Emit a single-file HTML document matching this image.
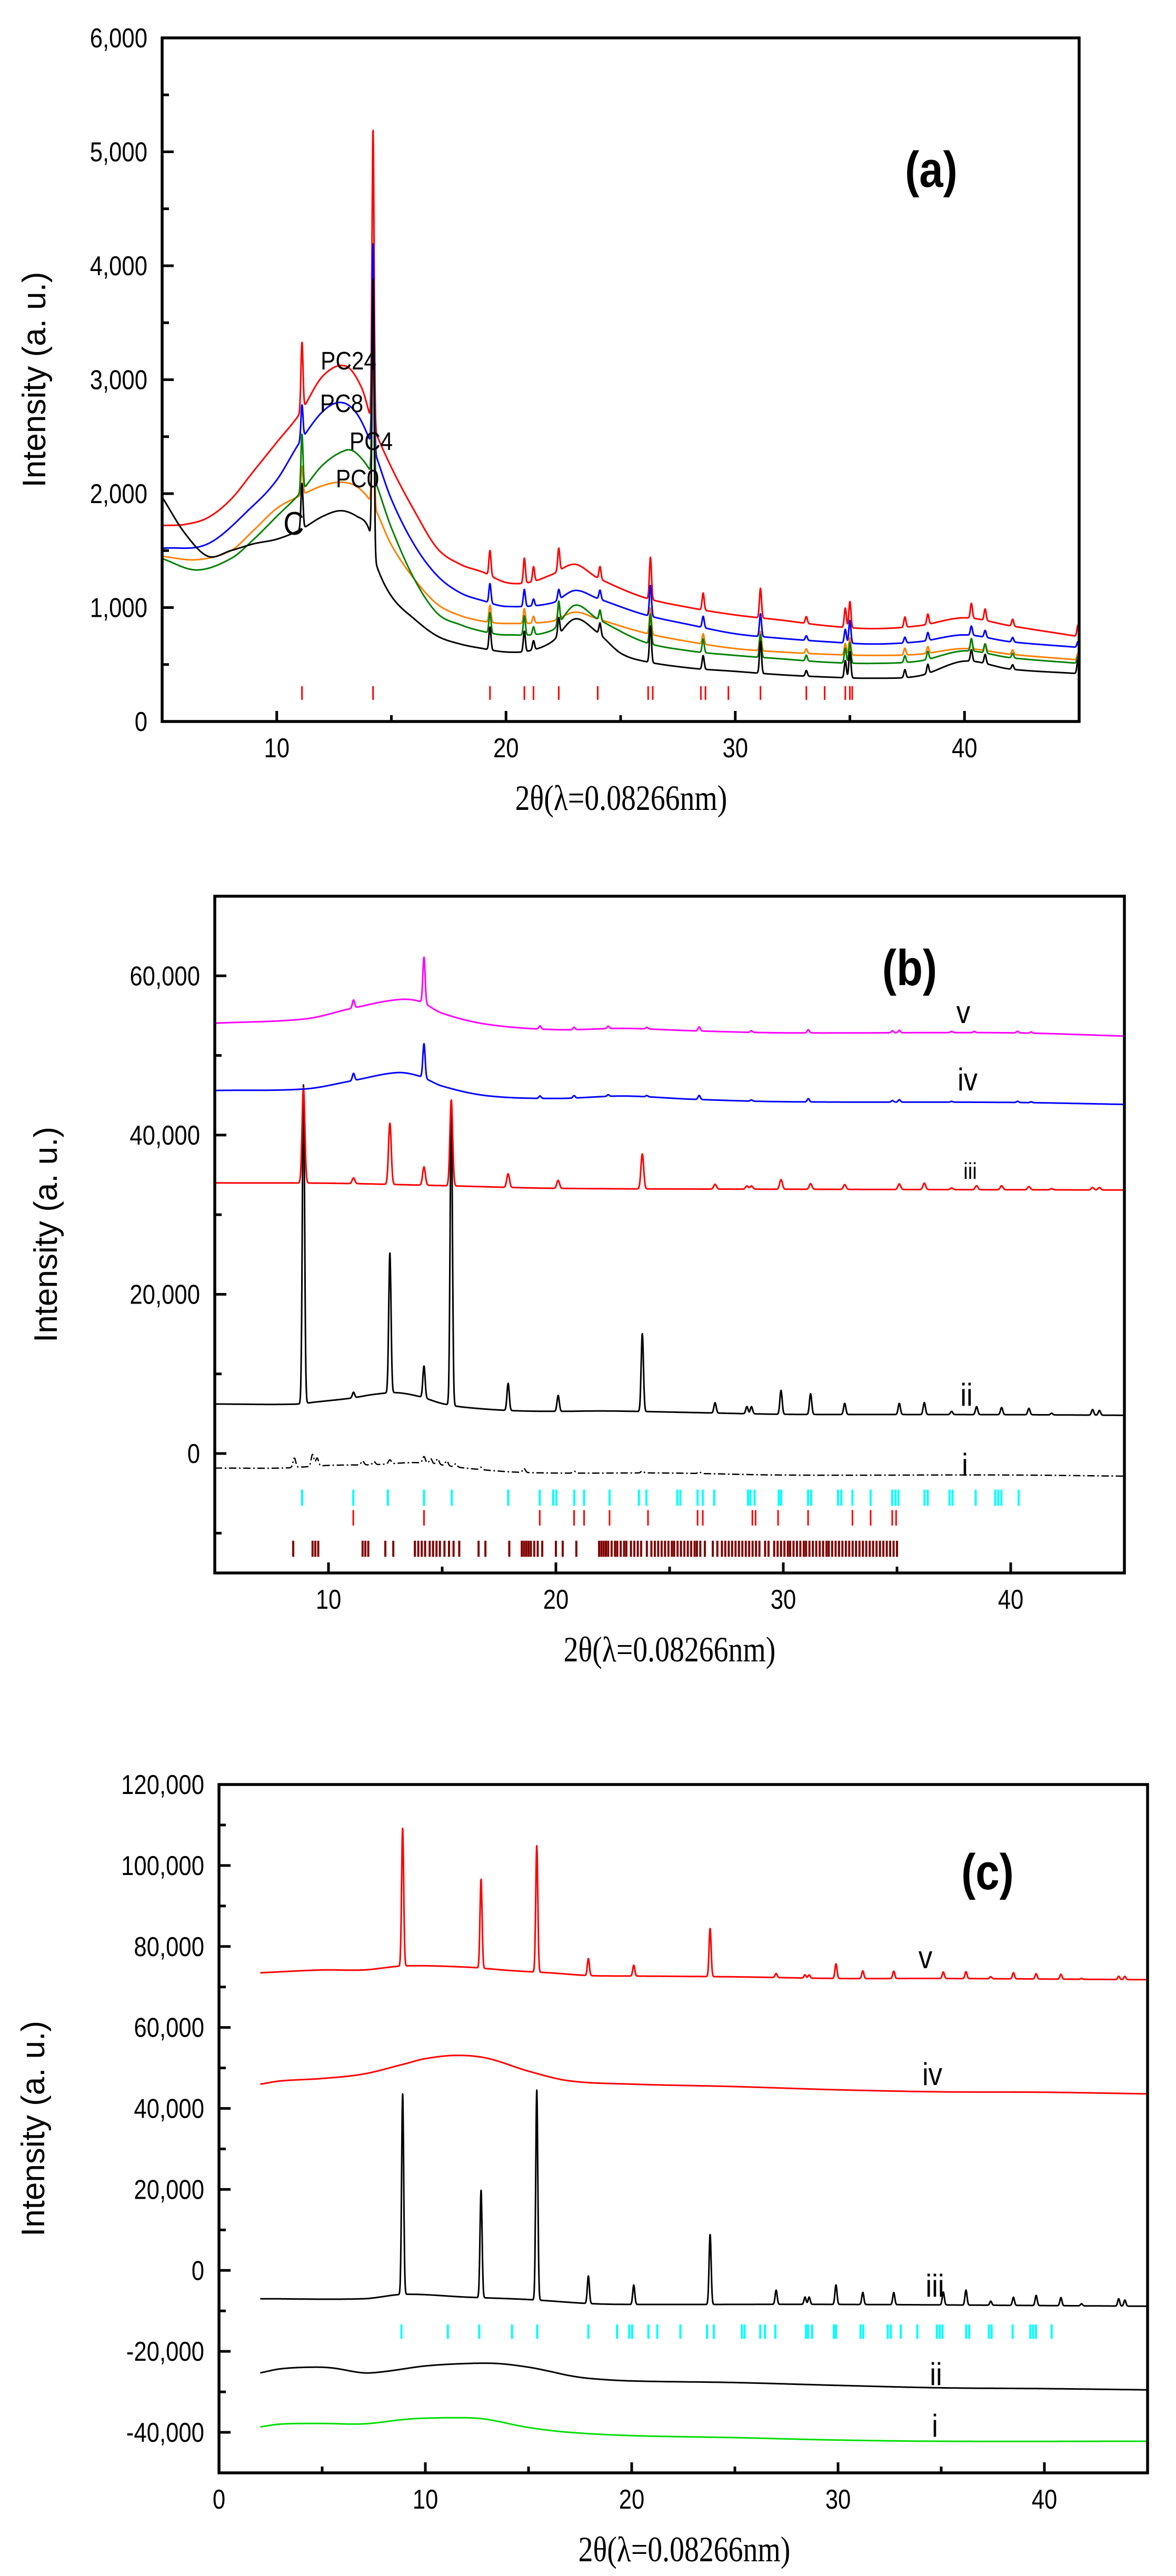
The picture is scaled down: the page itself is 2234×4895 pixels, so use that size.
<!DOCTYPE html>
<html><head><meta charset="utf-8">
<style>
html,body{margin:0;padding:0;background:#fff;}
svg{display:block;}
text{font-family:"Liberation Sans",Arial,sans-serif;}
.serif{font-family:"Liberation Serif","Times New Roman",serif;}
</style></head>
<body>
<svg id="fig" width="2234" height="4895" viewBox="0 0 2234 4895" xmlns="http://www.w3.org/2000/svg">
<rect width="2234" height="4895" fill="#fff"/>
</svg>
<script>
// ---------- Panel (a) data ----------
const aPeakPos = [11.1,14.2,19.3,20.8,21.2,22.3,24.1,26.3,28.6,31.1,33.1,34.8,35.0,37.4,38.4,40.3,40.9,42.1,44.95];
const aRedX = [5,6,7,8,9,10,11,12,13,13.7,14.2,15,16,17,18,19,20,21,22,23,24,26,28,30,32,34,36,38,40,42,45];
const aRedY = [1720,1730,1790,1950,2200,2450,2700,3030,3120,2930,2600,2230,1850,1520,1380,1310,1220,1220,1290,1380,1260,1090,1000,935,890,840,815,840,910,840,745];
const aRedPk = [600,2600,220,220,130,200,110,370,150,260,60,170,230,90,90,130,100,60,100];
const aBlueX = [5,7,9,10,11,12,12.8,13.5,14.2,15,16,17,18,19,20,22,23,24,26,28,30,32,34,36,38,40,42,45];
const aBlueY = [1520,1560,1900,2120,2450,2720,2800,2700,2400,1950,1550,1280,1130,1060,1010,1040,1150,1080,940,850,770,730,700,680,700,760,700,650];
const aBluePk = [300,1800,170,150,60,90,80,270,100,200,40,120,200,50,70,80,60,40,50];
const aOrangeX = [5,6.5,8,9,10,11,12,12.8,13.5,14.2,15,16,17,18,19,20,22,23,24,26,28,30,32,34,36,38,40,42,45];
const aOrangeY = [1450,1420,1500,1680,1870,1980,2070,2100,2060,1900,1550,1250,1030,930,880,860,880,960,900,780,700,640,610,590,580,590,640,590,540];
const aOrangePk = [250,1500,150,130,60,120,70,230,90,170,40,100,150,60,60,80,60,40,60];
const aGreenX = [5,6.5,8,9,10,11,12,13,13.5,14.2,15,16,17,18,19,20,22,23,24,26,28,30,32,34,36,38,40,42,45];
const aGreenY = [1430,1330,1430,1600,1800,2000,2250,2380,2350,2150,1700,1250,950,850,790,760,800,1020,900,700,620,580,550,520,510,530,620,560,510];
const aGreenPk = [500,1600,180,170,70,200,90,260,120,200,50,130,180,60,70,110,80,40,60];
const aBlackX = [5,6,7,8,9,10,11,12,12.8,13.5,14,14.3,15,16,17,18,19,20,21,22,23,24,25,26,28,30,32,34,36,38,40,42,45];
const aBlackY = [1970,1650,1450,1500,1560,1600,1680,1800,1850,1800,1700,1400,1100,900,750,680,640,610,620,700,900,780,600,530,470,440,410,390,380,400,530,460,420];
const aBlackPk = [400,2400,200,180,80,150,100,320,120,280,50,150,230,70,80,100,80,40,120];
const aRefTicks = [11.1,14.2,19.3,20.8,21.2,22.3,24.0,26.2,26.4,28.5,28.7,29.7,31.1,33.1,33.9,34.8,35.0,35.1];
const aYTicks = [0,1000,2000,3000,4000,5000,6000];
const aYTickLabels = ["0","1,000","2,000","3,000","4,000","5,000","6,000"];
const aXTicks = [10,20,30,40];

// ---------- Panel (b) data ----------
const bVX = [5,9,11,13,14,15,17,20,23,26,30,40,45];
const bVY = [54050,54600,55900,57000,56800,55300,53900,53240,53400,53100,52840,52840,52430];
const bVPkPos = [11.1,14.2,19.3,20.8,22.3,24.0,26.3,28.6,31.1,34.8,35.1,37.4,38.4,40.3,40.9];
const bVPk = [1000,5800,400,300,300,200,500,200,400,250,300,150,150,200,150];
const bIVX = [5,9,11,13,14,15,17,20,23,26,30,40,45];
const bIVY = [45600,45800,46800,47840,47400,46150,44930,44600,44900,44500,44190,44100,43850];
const bIVPkPos = [11.1,14.2,19.3,20.8,22.3,24.0,26.3,28.6,31.1,34.8,35.1,37.4,40.3,40.9];
const bIVPk = [900,4300,300,300,200,150,500,150,400,200,300,100,150,100];
const bIIIX = [5,10,15,20,30,45];
const bIIIY = [33990,33950,33650,33310,33200,33100];
const xtalPkPos = [8.9,11.1,12.7,14.2,15.4,17.9,20.1,23.8,27.0,28.4,28.6,29.9,31.2,32.7,35.1,36.2,37.4,38.5,39.6,40.8,41.8,43.6,43.9];
const bIIIPk = [12000,700,7700,2300,10800,1700,1000,4400,600,400,400,1200,700,600,700,800,200,500,500,400,150,300,300];
const bIIX = [5,8.5,9.5,11,12,13,14,15,16,18,20,22,24,26,30,35,40,45];
const bIIY = [6220,6200,6490,6960,7430,7640,7160,6280,5810,5400,5300,5350,5270,5150,4930,4900,4880,4800];
const bIIPk = [40000,700,17600,4000,38000,3400,2000,9800,1300,900,900,3000,2600,1400,1400,1500,400,1000,900,800,200,700,600];
const bIX = [5,8,10,12,14,16,18,20,25,30,40,45];
const bIY = [-1820,-1820,-1490,-1400,-1150,-1820,-2300,-2450,-2450,-2700,-2700,-2840];
const bIPkPos = [8.5,9.3,9.5,11.5,12.0,12.7,14.2,14.5,14.8,15.2,15.6,16.7,18.6,20.8,23.8,26.3];
const bIPk = [1200,1500,1000,500,400,500,800,600,700,600,400,300,500,250,250,200];
const cyanTicks = [8.84,11.09,12.61,14.2,15.42,17.9,19.29,19.88,20.02,20.81,21.24,22.36,23.65,23.98,25.34,25.47,26.23,26.46,26.96,28.45,28.55,28.74,29.8,29.9,31.09,31.22,32.41,32.55,33.04,33.84,34.79,34.93,35.06,36.21,36.35,37.31,37.44,38.46,39.32,39.45,39.59,40.35];
const bRedTicks = [11.09,14.2,19.29,20.8,21.24,22.36,24.05,26.23,26.46,28.64,28.78,29.77,31.09,33.04,33.84,34.79,34.96];
const bDarkTicks = [8.45,9.3,9.42,9.55,11.5,11.62,11.75,12.5,12.85,13.8,13.95,14.1,14.25,14.45,14.6,14.75,14.9,15.1,15.3,15.5,15.75,16.6,16.9,17.95,18.5,18.6,18.7,18.8,18.9,19.05,19.2,19.4,20.0,20.3,20.9,21.9,22.0,22.1,22.2,22.3,22.45,22.6,22.7,22.85,23.0,23.1,23.3,23.45,23.6,23.75,24.0,24.2,24.35,24.5,24.65,24.8,24.95,25.1,25.2,25.35,25.5,25.65,25.8,25.95,26.1,26.2,26.35,26.55,26.9,27.1,27.3,27.45,27.6,27.75,27.9,28.05,28.2,28.35,28.5,28.65,28.8,28.95,29.2,29.35,29.6,29.75,29.9,30.05,30.2,30.3,30.45,30.6,30.75,30.9,31.0,31.15,31.3,31.45,31.6,31.75,31.9,32.0,32.15,32.3,32.45,32.6,32.75,32.9,33.05,33.2,33.35,33.5,33.65,33.8,33.95,34.1,34.25,34.4,34.55,34.7,34.85,35.0];
const bYTicks = [0,20000,40000,60000];
const bYTickLabels = ["0","20,000","40,000","60,000"];
const bXTicks = [10,20,30,40];

// ---------- Panel (c) data ----------
const cVX = [2,5,7,9,12,14,15.3,16,18,20,25,30,35,45];
const cVY = [73500,74200,74200,75200,74900,74100,73700,73500,72800,72700,72500,72100,72100,71800];
const cVPk = [34000,0,22000,0,31300,4200,2700,11900,1000,800,800,3600,1900,1800,1600,1700,500,1500,1300,1200,200,800,800];
const cIVX = [2,3,5,7,9,10,11.5,13,15,17,20,25,30,35,40,45];
const cIVY = [46000,46800,47400,48500,51000,52300,53100,52400,49200,46800,46000,45400,44600,44100,44000,43600];
const cIIIX = [2,7,9,12,15,18,20,30,45];
const cIIIY = [-7000,-7000,-5900,-6600,-7200,-8200,-8400,-8400,-8850];
const cIIIPk = [49500,0,26600,0,52000,6800,4800,17300,3500,1800,1800,4800,3000,3000,3200,3700,1000,2000,2500,2000,500,1800,1500];
const cIIX = [2,3,4.5,5.5,7,8,10,12,13.5,15,16,17,18,20,25,30,35,40,45];
const cIIY = [-25300,-24300,-23900,-24100,-25300,-25000,-23600,-23000,-23000,-23900,-24900,-26000,-26700,-27300,-27700,-28400,-29000,-29200,-29500];
const cIX = [2,3,5,7,9,10,12,13,15,17,20,25,30,35,45];
const cIY = [-38650,-37950,-37800,-37900,-36800,-36500,-36400,-36800,-38800,-40000,-40800,-41300,-41900,-42200,-42200];
const cYTicks = [-40000,-20000,0,20000,40000,60000,80000,100000,120000];
const cYTickLabels = ["-40,000","-20,000","0","20,000","40,000","60,000","80,000","100,000","120,000"];
const cXTicks = [0,10,20,30,40];

const NS = "http://www.w3.org/2000/svg";
const fig = document.getElementById('fig');

function mk(tag, attrs, parent) {
  const e = document.createElementNS(NS, tag);
  for (const k in attrs) e.setAttribute(k, attrs[k]);
  (parent || fig).appendChild(e);
  return e;
}
function condense(t, f) {
  const L = t.getComputedTextLength();
  if (L > 0) { t.setAttribute('textLength', (L * f).toFixed(1)); t.setAttribute('lengthAdjust', 'spacingAndGlyphs'); }
}
function baseline(xs, ys, x) {
  if (x <= xs[0]) return ys[0];
  const n = xs.length;
  if (x >= xs[n - 1]) return ys[n - 1];
  let i = 0;
  while (x > xs[i + 1]) i++;
  const slope = k => {
    if (k === 0) return (ys[1] - ys[0]) / (xs[1] - xs[0]);
    if (k === n - 1) return (ys[n - 1] - ys[n - 2]) / (xs[n - 1] - xs[n - 2]);
    return (ys[k + 1] - ys[k - 1]) / (xs[k + 1] - xs[k - 1]);
  };
  const h = xs[i + 1] - xs[i], t = (x - xs[i]) / h;
  const t2 = t * t, t3 = t2 * t;
  return (2*t3 - 3*t2 + 1) * ys[i] + (t3 - 2*t2 + t) * h * slope(i) + (-2*t3 + 3*t2) * ys[i + 1] + (t3 - t2) * h * slope(i + 1);
}
function curveVal(bx, by, pp, ph, sig, x) {
  let v = baseline(bx, by, x);
  if (pp) for (let k = 0; k < pp.length; k++) {
    const d = (x - pp[k]) / sig;
    if (Math.abs(d) < 6) v += ph[k] * Math.exp(-0.5 * d * d);
  }
  return v;
}

function makePanel(cfg) {
  const g = mk('g', {});
  
  
  const sx = v => cfg.x0 + (v - cfg.xmin) / (cfg.xmax - cfg.xmin) * (cfg.x1 - cfg.x0);
  const sy = v => cfg.y1 - (v - cfg.ymin) / (cfg.ymax - cfg.ymin) * (cfg.y1 - cfg.y0);
  const clip = 'clip-' + cfg.name;
  const cp = mk('clipPath', { id: clip }, g);
  mk('rect', { x: cfg.x0, y: cfg.y0 - 2, width: cfg.x1 - cfg.x0, height: cfg.y1 - cfg.y0 + 2 }, cp);
  const plot = mk('g', { 'clip-path': 'url(#' + clip + ')' }, g);
  return { g, sx, sy, plot, cfg };
}
function drawSeries(P, name, bx, by, pp, ph, sig, color, extra) {
  const c = P.cfg; const step = 0.012;
  let d = '';
  const xs0 = Math.max(c.xmin, bx[0]);
  for (let x = xs0; x <= c.xmax + 1e-9; x += step) {
    const v = curveVal(bx, by, pp, ph, sig, x);
    d += (d ? 'L' : 'M') + P.sx(x).toFixed(1) + ',' + P.sy(v).toFixed(1);
  }
  const p = mk('path', { d: d, fill: 'none', stroke: color, 'stroke-width': 3, 'stroke-linejoin': 'round' }, P.plot);
  if (extra) for (const k in extra) p.setAttribute(k, extra[k]);
  
  
}
function drawRefTicks(P, name, arr, v0, v1, color, w) {
  const grp = mk('g', {}, P.plot);
  
  
  for (const t of arr) {
    const l = mk('line', { x1: P.sx(t), x2: P.sx(t), y1: P.sy(v0), y2: P.sy(v1), stroke: color, 'stroke-width': w }, grp);
    
    
  }
}
function drawAxes(P, yTicks, yLabels, yMinorStep, xTicks, xMinorStep, panelLabel, plx, ply) {
  const c = P.cfg, g = P.g;
  const frame = mk('rect', { x: c.x0, y: c.y0, width: c.x1 - c.x0, height: c.y1 - c.y0, fill: 'none', stroke: '#000', 'stroke-width': 5.5 }, g);
  
  
  for (let v = Math.ceil(c.ymin / yMinorStep) * yMinorStep; v <= c.ymax; v += yMinorStep) {
    const y = P.sy(v);
    if (y < c.y0 + 3 || y > c.y1 - 3) continue;
    const major = yTicks.indexOf(v) >= 0;
    mk('line', { x1: c.x0, x2: c.x0 + (major ? 22 : 13), y1: y, y2: y, stroke: '#000', 'stroke-width': 5 }, g);
  }
  yTicks.forEach((v, i) => {
    const t = mk('text', { x: c.x0 - 28, y: P.sy(v) + 18, 'font-size': 52, 'text-anchor': 'end', fill: '#000' }, g);
    t.textContent = yLabels[i];
    
    
    condense(t, 0.84);
  });
  for (let v = Math.ceil(c.xmin / xMinorStep) * xMinorStep; v <= c.xmax; v += xMinorStep) {
    const x = P.sx(v);
    if (x < c.x0 + 3 || x > c.x1 - 3) continue;
    const major = xTicks.indexOf(v) >= 0;
    mk('line', { x1: x, x2: x, y1: c.y1, y2: c.y1 - (major ? 20 : 12), stroke: '#000', 'stroke-width': 5 }, g);
  }
  xTicks.forEach(v => {
    const t = mk('text', { x: P.sx(v), y: c.y1 + 68, 'font-size': 52, 'text-anchor': 'middle', fill: '#000' }, g);
    t.textContent = String(v);
    
    
    condense(t, 0.84);
  });
  const yt = mk('text', { x: 0, y: 0, 'font-size': 62, 'text-anchor': 'middle', fill: '#000', transform: 'translate(' + c.ytx + ',' + ((c.y0 + c.y1) / 2) + ') rotate(-90)' }, g);
  yt.textContent = 'Intensity (a. u.)';
  
  
  const xt = mk('text', { x: c.xtx, y: c.y1 + 168, 'font-size': 68, 'text-anchor': 'middle', fill: '#000', class: 'serif' }, g);
  xt.textContent = '2θ(λ=0.08266nm)';
  
  
  condense(xt, 0.82);
  const pl = mk('text', { x: plx, y: ply, 'font-size': 96, 'font-weight': 'bold', 'text-anchor': 'middle', fill: '#000' }, g);
  pl.textContent = panelLabel;
  
  
  condense(pl, 0.85);
}
function label(P, txt, x, y, size, name) {
  const t = mk('text', { x: x, y: y, 'font-size': size, 'text-anchor': 'middle', fill: '#000' }, P.g);
  t.textContent = txt;
  
  
  condense(t, 0.88);
}

// ===== Panel (a) =====
const A = makePanel({ name: 'panel-a', x0: 308, x1: 2050, y0: 72, y1: 1371, xmin: 5, xmax: 45, ymin: 0, ymax: 6000, ytx: 86, xtx: 1180 });
drawRefTicks(A, 'reference-ticks-a', aRefTicks, 190, 310, '#ff0000', 3);
drawSeries(A, 'series-pc24', aRedX, aRedY, aPeakPos, aRedPk, 0.045, '#ff0000');
drawSeries(A, 'series-pc8', aBlueX, aBlueY, aPeakPos, aBluePk, 0.045, '#0000ff');
drawSeries(A, 'series-pc0', aOrangeX, aOrangeY, aPeakPos, aOrangePk, 0.045, '#ff8000');
drawSeries(A, 'series-pc4', aGreenX, aGreenY, aPeakPos, aGreenPk, 0.045, '#008000');
drawSeries(A, 'series-c', aBlackX, aBlackY, aPeakPos, aBlackPk, 0.045, '#000000');
drawAxes(A, aYTicks, aYTickLabels, 500, aXTicks, 5, '(a)', 1769, 355);
label(A, 'PC24', 662, 702, 48, 'label-pc24');
label(A, 'PC8', 649, 783, 48, 'label-pc8');
label(A, 'PC4', 705, 855, 48, 'label-pc4');
label(A, 'PC0', 679, 926, 48, 'label-pc0');
label(A, 'C', 558, 1016, 62, 'label-c');

// ===== Panel (b) =====
const B = makePanel({ name: 'panel-b', x0: 408, x1: 2136, y0: 1703, y1: 2989, xmin: 5, xmax: 45, ymin: -15000, ymax: 70000, ytx: 108, xtx: 1272 });
drawRefTicks(B, 'reference-ticks-b-cyan', cyanTicks, -6560, -4530, '#00ffff', 4);
drawRefTicks(B, 'reference-ticks-b-red', bRedTicks, -9050, -7100, '#ff0000', 3);
drawRefTicks(B, 'reference-ticks-b-darkred', bDarkTicks, -12970, -10950, '#800000', 4);
drawSeries(B, 'series-b-i', bIX, bIY, bIPkPos, bIPk, 0.06, '#000000', { 'stroke-dasharray': '14,5,3,5', 'stroke-width': 2.5 });
drawSeries(B, 'series-b-ii', bIIX, bIIY, xtalPkPos, bIIPk, 0.05, '#000000');
drawSeries(B, 'series-b-iii', bIIIX, bIIIY, xtalPkPos, bIIIPk, 0.06, '#ff0000');
drawSeries(B, 'series-b-iv', bIVX, bIVY, bIVPkPos, bIVPk, 0.05, '#0000ff');
drawSeries(B, 'series-b-v', bVX, bVY, bVPkPos, bVPk, 0.05, '#ff00ff');
drawAxes(B, bYTicks, bYTickLabels, 10000, bXTicks, 5, '(b)', 1728, 1872);
label(B, 'v', 1830, 1944, 60, 'label-b-v');
label(B, 'iv', 1838, 2072, 60, 'label-b-iv');
label(B, 'iii', 1843, 2240, 44, 'label-b-iii');
label(B, 'ii', 1836, 2671, 60, 'label-b-ii');
label(B, 'i', 1833, 2804, 60, 'label-b-i');

// ===== Panel (c) =====
const C = makePanel({ name: 'panel-c', x0: 416, x1: 2180, y0: 3391, y1: 4699, xmin: 0, xmax: 45, ymin: -50000, ymax: 120000, ytx: 84, xtx: 1300 });
drawRefTicks(C, 'reference-ticks-c-cyan', cyanTicks, -16900, -13350, '#00ffff', 4);
drawSeries(C, 'series-c-i', cIX, cIY, null, null, 0.06, '#00dd00');
drawSeries(C, 'series-c-ii', cIIX, cIIY, null, null, 0.06, '#000000');
drawSeries(C, 'series-c-iii', cIIIX, cIIIY, xtalPkPos, cIIIPk, 0.05, '#000000');
drawSeries(C, 'series-c-iv', cIVX, cIVY, null, null, 0.06, '#ff0000');
drawSeries(C, 'series-c-v', cVX, cVY, xtalPkPos, cVPk, 0.05, '#ff0000');
drawAxes(C, cYTicks, cYTickLabels, 10000, cXTicks, 5, '(c)', 1876, 3590);
label(C, 'v', 1758, 3740, 60, 'label-c-v');
label(C, 'iv', 1771, 3962, 60, 'label-c-iv');
label(C, 'iii', 1776, 4364, 60, 'label-c-iii');
label(C, 'ii', 1778, 4532, 60, 'label-c-ii');
label(C, 'i', 1776, 4630, 60, 'label-c-i');
</script>
</body></html>
